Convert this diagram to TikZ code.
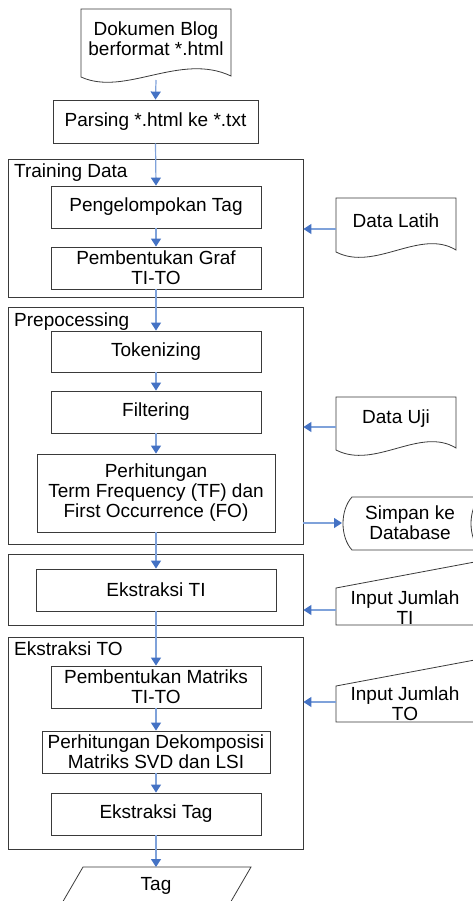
\documentclass[tikz,border=0pt]{standalone}
\usepackage{fontspec}
\setmainfont{Liberation Sans}
\usetikzlibrary{arrows.meta}
\definecolor{boxline}{HTML}{3A3A3A}
\definecolor{arrline}{HTML}{7FA2DA}
\definecolor{arrhead}{HTML}{4472C4}
\begin{document}
\begin{tikzpicture}[x=1pt,y=-1pt,
  every node/.style={font=\fontsize{19}{20}\selectfont, inner sep=0pt, align=center},
  box/.style={draw=boxline, line width=0.8pt, minimum height=42pt},
  frame/.style={draw=boxline, line width=0.8pt, minimum width=295pt},
  shp/.style={draw=boxline, line width=0.8pt},
  flow/.style={draw=arrline, line width=1.2pt, -{Triangle[length=8pt,width=10pt,color=arrhead]}}]
\useasboundingbox (0,0) rectangle (473,901);
\clip (0,0) rectangle (473,901);

% outer frames
\node[frame, minimum height=138pt] (training) at (155.5,228) {};
\node[frame, minimum height=237pt] (prep) at (155.5,425.5) {};
\node[frame, minimum height=71pt] (tiframe) at (155.5,589.5) {};
\node[frame, minimum height=212pt] (ekto) at (155.5,743) {};
\node[anchor=base west] (trainlbl) at (14,178) {Training Data};
\node[anchor=base west] (preplbl) at (14,326) {Prepocessing};
\node[anchor=base west] (ektolbl) at (14,655) {Ekstraksi TO};

% document shapes
\draw[shp] (81,9) -- (231,9) -- (231,76) .. controls (180,52) and (125,97) .. (81,77) -- cycle;
\draw[shp] (336,198) -- (456,198) -- (456,250) .. controls (420,228) and (375,272) .. (336,252) -- cycle;
\draw[shp] (336,397) -- (456,397) -- (456,448) .. controls (420,426) and (375,470) .. (336,450) -- cycle;
% stored data
\draw[shp] (352,497) -- (480,497) .. controls (468,510) and (468,537) .. (480,550) -- (352,550) .. controls (340,537) and (340,510) .. (352,497) -- cycle;
% manual inputs
\draw[shp] (336,588) -- (480,561) -- (480,625) -- (336,625) -- cycle;
\draw[shp] (336,686) -- (480,659) -- (480,722) -- (336,722) -- cycle;
% output parallelogram
\draw[shp] (83,867) -- (251,867) -- (226,910) -- (58,910) -- cycle;

% process boxes
\node[box, minimum width=205pt, minimum height=43pt] (parse) at (155.5,121.5) {Parsing *.html ke *.txt};
\node[box, minimum width=210pt] (peng) at (156,207) {Pengelompokan Tag};
\node[box, minimum width=210pt] (graf) at (156,268) {Pembentukan Graf\\TI-TO};
\node[box, minimum width=210pt, minimum height=41pt] (token) at (156,351.5) {Tokenizing};
\node[box, minimum width=210pt] (filter) at (156,412) {Filtering};
\node[box, minimum width=238pt, minimum height=78pt] (tf) at (156,493) {Perhitungan\\Term Frequency (TF) dan\\First Occurrence (FO)};
\node[box, minimum width=240pt] (ekti) at (156,590) {Ekstraksi TI};
\node[box, minimum width=210pt] (matriks) at (156,687) {Pembentukan Matriks\\TI-TO};
\node[box, minimum width=228pt] (svd) at (156,752) {Perhitungan Dekomposisi\\Matriks SVD dan LSI};
\node[box, minimum width=210pt] (tagx) at (156,814) {Ekstraksi Tag};

% texts of other shapes
\node (doc) at (156,39) {Dokumen Blog\\berformat *.html};
\node (latih) at (396,221) {Data Latih};
\node (uji) at (396,419) {Data Uji};
\node (simpan) at (410,523) {Simpan ke\\Database};
\node (inti) at (405,608) {Input Jumlah\\TI};
\node (into) at (405,704) {Input Jumlah\\TO};
\node (tag) at (156,886) {Tag};

% connector ends
\coordinate (docb) at (156,80);
\coordinate (latihw) at (336,229);
\coordinate (ujiw) at (336,427);
\coordinate (simpw) at (342,523);
\coordinate (intiw) at (336,610);
\coordinate (intow) at (336,702);
\coordinate (tagn) at (156,867);

% connectors
\draw[flow] (docb) -- (parse.north);
\draw[flow] (parse.south) -- (peng.north);
\draw[flow] (peng.south) -- (graf.north);
\draw[flow] (graf.south) -- (token.north);
\draw[flow] (token.south) -- (filter.north);
\draw[flow] (filter.south) -- (tf.north);
\draw[flow] (tf.south) -- (ekti.north);
\draw[flow] (ekti.south) -- (matriks.north);
\draw[flow] (matriks.south) -- (svd.north);
\draw[flow] (svd.south) -- (tagx.north);
\draw[flow] (tagx.south) -- (tagn);
\draw[flow] (latihw) -- (latihw -| training.east);
\draw[flow] (ujiw) -- (ujiw -| prep.east);
\draw[flow] (simpw -| prep.east) -- (simpw);
\draw[flow] (intiw) -- (intiw -| tiframe.east);
\draw[flow] (intow) -- (intow -| ekto.east);
\end{tikzpicture}
\end{document}
